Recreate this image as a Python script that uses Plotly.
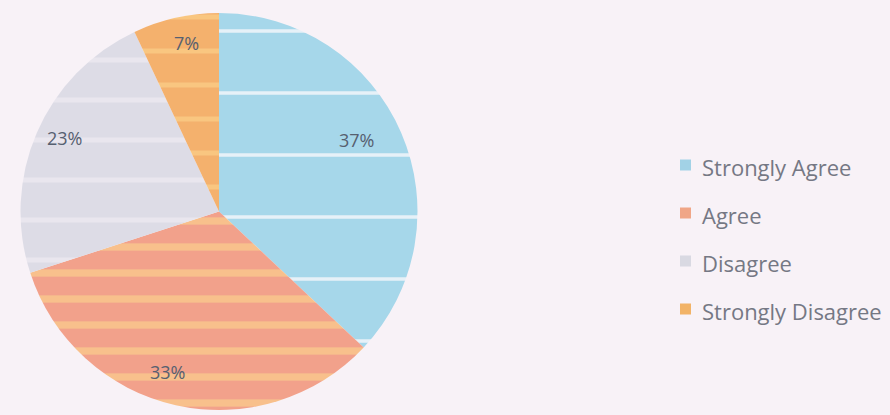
import math
import plotly.graph_objects as go

categories = ["Strongly Agree", "Agree", "Disagree", "Strongly Disagree"]
values = [37, 33, 23, 7]
label_texts = ["37%", "33%", "23%", "7%"]

# styles
slice_colors = ["#a6d7ea", "#f2a18b", "#dddce6", "#f4b16d"]
stripe_colors = ["#e6f1f8", "#f8c08c", "#e9e6ee", "#f9c680"]
stripe_sizes = [62, 26, 40, 34]
stripe_solidity = [0.06, 0.28, 0.12, 0.14]
legend_colors = ["#a2d2e6", "#f0a687", "#d9d9e2", "#f2b367"]
label_radius = [0.78, 0.85, 0.86, 0.865]
label_angle_shift = [-4.0, 5.0, 2.0, 1.6]

W, H = 890, 415
left, right, top, bottom = 18, 420, 13, 410
cx, cy = (left + right) / 2, (top + bottom) / 2
R = min(right - left, bottom - top) / 2

fig = go.Figure()
fig.add_trace(go.Pie(
    labels=categories,
    values=values,
    sort=False,
    direction="clockwise",
    rotation=0,
    textinfo="none",
    hoverinfo="label+percent",
    marker=dict(
        colors=slice_colors,
        line=dict(width=0),
        pattern=dict(
            shape="-",
            fillmode="replace",
            bgcolor=slice_colors,
            fgcolor=stripe_colors,
            size=stripe_sizes,
            solidity=stripe_solidity,
        ),
    ),
    domain=dict(x=[left / W, right / W], y=[1 - bottom / H, 1 - top / H]),
    showlegend=False,
))

annotations = []
total = sum(values)
cum = 0
for v, t, rf, sh in zip(values, label_texts, label_radius, label_angle_shift):
    mid = (cum + v / 2) / total * 2 * math.pi + math.radians(sh)
    cum += v
    r = rf * R
    px = cx + r * math.sin(mid)
    py = cy - r * math.cos(mid)
    annotations.append(dict(
        x=px / W, y=1 - py / H, xref="paper", yref="paper",
        xanchor="center", yanchor="middle",
        text=t, showarrow=False,
        font=dict(family="Open Sans", size=18, color="#566070"),
    ))

shapes = []
leg_x, leg_y0, leg_dy = 680, 165, 48
for i, (cat, col) in enumerate(zip(categories, legend_colors)):
    yc = leg_y0 + i * leg_dy
    shapes.append(dict(
        type="rect", xref="paper", yref="paper",
        x0=leg_x / W, x1=(leg_x + 11) / W,
        y0=1 - (yc + 5.5) / H, y1=1 - (yc - 5.5) / H,
        fillcolor=col, line=dict(width=0),
    ))
    annotations.append(dict(
        x=(leg_x + 20) / W, y=1 - (yc + 2) / H, xref="paper", yref="paper",
        xanchor="left", yanchor="middle",
        text=cat, showarrow=False,
        font=dict(family="Open Sans", size=22, color="#757884"),
    ))

fig.update_layout(
    width=W, height=H,
    margin=dict(l=0, r=0, t=0, b=0),
    paper_bgcolor="#f8f2f7",
    plot_bgcolor="#f8f2f7",
    annotations=annotations,
    shapes=shapes,
)

fig.write_html(
    "out.html",
    config={"displayModeBar": False},
    post_script="document.body.style.margin='0';document.body.style.background='#f8f2f7';",
)
